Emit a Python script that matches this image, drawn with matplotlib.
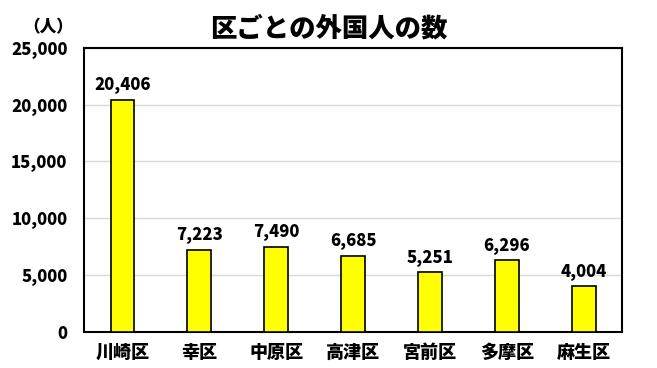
import matplotlib
matplotlib.use("Agg")
import matplotlib.pyplot as plt

plt.rcParams['font.family'] = ['Noto Sans CJK JP', 'DejaVu Sans']

wards = ["川崎区", "幸区", "中原区", "高津区", "宮前区", "多摩区", "麻生区"]
counts = [20406, 7223, 7490, 6685, 5251, 6296, 4004]
yticks = [0, 5000, 10000, 15000, 20000, 25000]

fig = plt.figure(figsize=(6.57, 3.68), dpi=100)
ax = fig.add_axes([0.128, 0.098, 0.819, 0.772])

x = range(len(wards))
ax.bar(x, counts, width=0.31, color="#ffff00", edgecolor="black", linewidth=1.2, zorder=3)

for i, v in enumerate(counts):
    ax.text(i, v + 500, f"{v:,}", ha="center", va="bottom",
            fontsize=12, fontweight="black")

ax.set_xlim(-0.5, len(wards) - 0.5)
ax.set_ylim(0, 25000)
ax.set_yticks(yticks)
ax.set_yticklabels([f"{t:,}" for t in yticks], fontsize=12, fontweight="black")
ax.set_xticks(list(x))
ax.set_xticklabels(wards, fontsize=13, fontweight="black")
ax.tick_params(length=0, pad=8)
ax.tick_params(axis="y", pad=12)
ax.yaxis.grid(True, color="#d9d9d9", linewidth=1, zorder=0)
ax.set_axisbelow(True)
for s in ax.spines.values():
    s.set_linewidth(1.5)
    s.set_color("black")

fig.text(0.5, 0.924, "区ごとの外国人の数", ha="center", va="center",
         fontsize=19, fontweight="black")
fig.text(0.073, 0.925, "（人）", ha="center", va="center",
         fontsize=12, fontweight="black")

fig.savefig("out.png", dpi=100)
